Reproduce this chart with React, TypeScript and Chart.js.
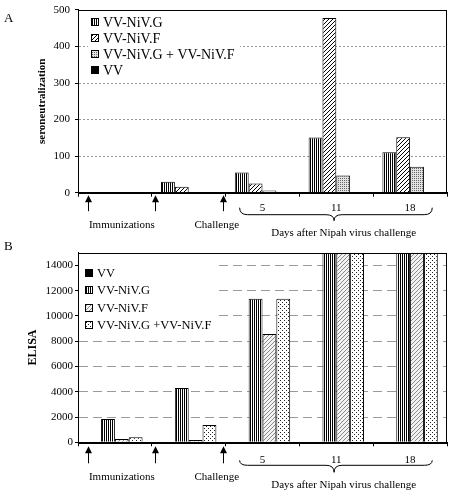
import React, { useEffect, useRef } from 'react';
import { Chart, registerables } from 'chart.js';

Chart.register(...registerables);

// ---------- data ----------
const categories = ['', '', '5', '11', '18'];

// Panel A: seroneutralization
const seroNames = ['VV-NiV.G', 'VV-NiV.F', 'VV-NiV.G + VV-NiV.F', 'VV'];
const seroG = [0, 30, 55, 151, 111];
const seroF = [0, 16, 25, 478, 152];
const seroGF = [0, 0, 6, 47, 71];
const seroVV = [0, 0, 0, 0, 0];
const seroTicks = [0, 100, 200, 300, 400, 500];
const seroMax = 500;

// Panel B: ELISA
const elisaNames = ['VV', 'VV-NiV.G', 'VV-NiV.F', 'VV-NiV.G +VV-NiV.F'];
const elisaVV = [0, 0, 0, 0, 0];
const elisaG = [1850, 4290, 11350, 15000, 15000];
const elisaF = [260, 180, 8570, 15000, 15000];
const elisaGF = [400, 1370, 11350, 15000, 15000];
const elisaTicks = [0, 2000, 4000, 6000, 8000, 10000, 12000, 14000];
const elisaMax = 15000;

const textImmunizations = 'Immunizations';
const textChallenge = 'Challenge';
const textDays = 'Days after Nipah virus challenge';

const SERIF = '"Liberation Serif", "Times New Roman", serif';

type PatternKind = 'solid' | 'vstripe' | 'hatch' | 'hatchLight' | 'grid' | 'dots';

function makePattern(ctx: CanvasRenderingContext2D, kind: PatternKind): CanvasPattern | string {
  if (kind === 'solid') return '#000';
  const c = document.createElement('canvas');
  const g = c.getContext('2d')!;
  if (kind === 'vstripe') {
    c.width = 2; c.height = 2;
    g.fillStyle = '#fff'; g.fillRect(0, 0, 2, 2);
    g.fillStyle = '#000'; g.fillRect(0, 0, 1, 2);
  } else if (kind === 'hatch' || kind === 'hatchLight') {
    const s = 4;
    c.width = s; c.height = s;
    g.fillStyle = kind === 'hatch' ? '#fff' : '#f2f2f2';
    g.fillRect(0, 0, s, s);
    g.strokeStyle = kind === 'hatch' ? '#000' : '#8a8a8a';
    g.lineWidth = 1;
    g.beginPath();
    g.moveTo(0, s); g.lineTo(s, 0);
    g.moveTo(-1, 1); g.lineTo(1, -1);
    g.moveTo(s - 1, s + 1); g.lineTo(s + 1, s - 1);
    g.stroke();
  } else if (kind === 'grid') {
    c.width = 2; c.height = 2;
    g.fillStyle = '#e2e2e2'; g.fillRect(0, 0, 2, 2);
    g.fillStyle = '#666'; g.fillRect(0, 0, 1, 1);
  } else if (kind === 'dots') {
    c.width = 4; c.height = 4;
    g.fillStyle = '#fff'; g.fillRect(0, 0, 4, 4);
    g.fillStyle = '#222'; g.fillRect(0, 0, 1, 1); g.fillRect(2, 2, 1, 1);
  }
  return ctx.createPattern(c, 'repeat')!;
}

interface PanelConfig {
  letter: string;
  letterY: number;
  names: string[];
  series: number[][];
  fills: PatternKind[];
  ticks: number[];
  max: number;
  title: string;
  titleSize: number;
  titlePad: number;
  gridDash: number[];
  tickPad: number;
  xTickPad: number;
  padTop: number;
  xHeight: number;
  legend: { boxX: number; boxY: number; boxW: number; boxH: number; markerX: number; textX: number; rowStart: number; rowGap: number; fontSize: number };
  ann: { arrowTop: number; arrowBottom: number; braceTop: number; braceMid: number; braceTip: number; labelY: number; daysY: number };
}

const panelA: PanelConfig = {
  letter: 'A', letterY: 19,
  names: seroNames,
  series: [seroG, seroF, seroGF, seroVV],
  fills: ['vstripe', 'hatch', 'grid', 'solid'],
  ticks: seroTicks, max: seroMax,
  title: 'seroneutralization', titleSize: 11, titlePad: 36,
  gridDash: [2, 2], tickPad: 5, xTickPad: 5, padTop: 5, xHeight: 47.3,
  legend: { boxX: 10, boxY: 2, boxW: 152, boxH: 65, markerX: 13, textX: 25, rowStart: 12.5, rowGap: 15.7, fontSize: 14 },
  ann: { arrowTop: 2.5, arrowBottom: 18.5, braceTop: 15, braceMid: 22, braceTip: 28, labelY: 32.5, daysY: 40 },
};

const panelB: PanelConfig = {
  letter: 'B', letterY: 7,
  names: elisaNames,
  series: [elisaVV, elisaG, elisaF, elisaGF],
  fills: ['solid', 'vstripe', 'hatchLight', 'dots'],
  ticks: elisaTicks, max: elisaMax,
  title: 'ELISA', titleSize: 12, titlePad: 26,
  gridDash: [9, 5], tickPad: 2, xTickPad: 7.5, padTop: 12.7, xHeight: 48.7,
  legend: { boxX: 1, boxY: 5, boxW: 138, boxH: 75, markerX: 7, textX: 19, rowStart: 20.3, rowGap: 17.3, fontSize: 12.5 },
  ann: { arrowTop: 4, arrowBottom: 21, braceTop: 18, braceMid: 23, braceTip: 30, labelY: 35, daysY: 43 },
};

// annotation positions in category units
const arrowAt = [-0.365, 0.54, 1.46];
const immunizationsAt = 0.095;
const challengeAt = 1.38;
const braceFrom = 1.69;
const braceTo = 4.3;
const braceTipAt = 2.97;
const daysAt = 3.1;

function makePlugin(cfg: PanelConfig) {
  return {
    id: 'panelDecor' + cfg.letter,
    afterDraw(chart: any) {
      const { ctx, chartArea: ca, scales } = chart;
      const xs = scales.x;
      ctx.save();
      // frame
      ctx.strokeStyle = '#000';
      ctx.lineWidth = 1;
      ctx.setLineDash([]);
      ctx.strokeRect(Math.round(ca.left) + 0.5, Math.round(ca.top) + 0.5, Math.round(ca.right - ca.left) - 1, Math.round(ca.bottom - ca.top));

      // legend
      const lg = cfg.legend;
      ctx.fillStyle = '#fff';
      ctx.fillRect(ca.left + lg.boxX, ca.top + lg.boxY, lg.boxW, lg.boxH);
      chart.data.datasets.forEach((ds: any, i: number) => {
        const cy = Math.round(ca.top + lg.rowStart + i * lg.rowGap);
        const mx = Math.round(ca.left + lg.markerX);
        ctx.fillStyle = ds.backgroundColor;
        ctx.fillRect(mx, cy - 4, 8, 8);
        ctx.strokeStyle = '#000';
        ctx.strokeRect(mx + 0.5, cy - 3.5, 7, 7);
        ctx.fillStyle = '#000';
        ctx.font = `${lg.fontSize}px ${SERIF}`;
        ctx.textAlign = 'left';
        ctx.textBaseline = 'middle';
        ctx.fillText(ds.label, ca.left + lg.textX, cy + 1);
      });

      // panel letter
      ctx.font = `13px ${SERIF}`;
      ctx.textAlign = 'left';
      ctx.textBaseline = 'middle';
      ctx.fillStyle = '#000';
      ctx.fillText(cfg.letter, 4, cfg.letterY);

      // arrows
      const an = cfg.ann;
      const base = ca.bottom;
      arrowAt.forEach((v) => {
        const px = Math.round(xs.getPixelForValue(v)) + 0.5;
        ctx.beginPath();
        ctx.moveTo(px, base + an.arrowTop + 5);
        ctx.lineTo(px, base + an.arrowBottom);
        ctx.stroke();
        ctx.beginPath();
        ctx.moveTo(px, base + an.arrowTop);
        ctx.lineTo(px - 3.5, base + an.arrowTop + 7);
        ctx.lineTo(px + 3.5, base + an.arrowTop + 7);
        ctx.closePath();
        ctx.fill();
      });

      // brace
      const x1 = xs.getPixelForValue(braceFrom);
      const x2 = xs.getPixelForValue(braceTo);
      const xm = xs.getPixelForValue(braceTipAt);
      const yT = base + an.braceTop, yM = base + an.braceMid, yP = base + an.braceTip;
      const r = 8;
      ctx.beginPath();
      ctx.moveTo(x1, yT);
      ctx.quadraticCurveTo(x1, yM, x1 + r, yM);
      ctx.lineTo(xm - r, yM);
      ctx.quadraticCurveTo(xm, yM, xm, yP);
      ctx.quadraticCurveTo(xm, yM, xm + r, yM);
      ctx.lineTo(x2 - r, yM);
      ctx.quadraticCurveTo(x2, yM, x2, yT);
      ctx.stroke();

      // texts
      ctx.font = `11px ${SERIF}`;
      ctx.textAlign = 'center';
      ctx.textBaseline = 'middle';
      ctx.fillText(textImmunizations, xs.getPixelForValue(immunizationsAt), base + an.labelY);
      ctx.fillText(textChallenge, xs.getPixelForValue(challengeAt), base + an.labelY);
      ctx.fillText(textDays, xs.getPixelForValue(daysAt), base + an.daysY);
      ctx.restore();
    },
  };
}

function buildChart(canvas: HTMLCanvasElement, cfg: PanelConfig) {
  const ctx = canvas.getContext('2d')!;
  const fills = cfg.fills.map((k) => makePattern(ctx, k));
  return new Chart(canvas, {
    type: 'bar',
    data: {
      labels: categories,
      datasets: cfg.series.map((d, i) => ({
        label: cfg.names[i],
        data: d,
        backgroundColor: fills[i] as any,
        borderColor: '#000',
        borderWidth: 1,
        barPercentage: 1,
        categoryPercentage: 0.75,
      })),
    },
    options: {
      responsive: false,
      animation: false,
      events: [],
      layout: { padding: { left: 0, right: 5, top: cfg.padTop, bottom: 0 } },
      plugins: { legend: { display: false }, tooltip: { enabled: false }, title: { display: false } },
      scales: {
        x: {
          grid: { display: true, drawOnChartArea: false, drawTicks: true, tickLength: 4, color: '#000', offset: true },
          border: { display: true, color: '#000' },
          ticks: { font: { family: SERIF, size: 11 }, color: '#000', padding: cfg.xTickPad, maxRotation: 0, autoSkip: false },
          afterFit: (s: any) => { s.height = cfg.xHeight; },
        },
        y: {
          min: 0,
          max: cfg.max,
          afterBuildTicks: (s: any) => { s.ticks = cfg.ticks.map((v) => ({ value: v })); },
          afterFit: (s: any) => { s.width = 78; },
          grid: {
            color: (c: any) => (c.tick && (c.tick.value === 0 || c.tick.value >= cfg.max) ? 'rgba(0,0,0,0)' : '#9a9a9a'),
            tickColor: '#000',
            tickLength: 3,
            lineWidth: 1,
          },
          border: { display: true, color: '#000', dash: cfg.gridDash },
          ticks: {
            font: { family: SERIF, size: 11, lineHeight: 0.9 },
            color: '#000',
            padding: cfg.tickPad,
            callback: (v: any) => String(v),
          },
          title: {
            display: true,
            text: cfg.title,
            font: { family: SERIF, size: cfg.titleSize, weight: 'bold' },
            color: '#000',
            padding: { top: cfg.titlePad, bottom: 0 },
          },
        },
      },
    } as any,
    plugins: [makePlugin(cfg)],
  });
}

export default function App() {
  const refA = useRef<HTMLCanvasElement>(null);
  const refB = useRef<HTMLCanvasElement>(null);
  useEffect(() => {
    const a = buildChart(refA.current!, panelA);
    const b = buildChart(refB.current!, panelB);
    return () => {
      a.destroy();
      b.destroy();
    };
  }, []);
  return (
    <div style={{ position: 'absolute', left: 0, top: 0, width: 452, height: 491, background: '#fff' }}>
      <canvas ref={refA} width={452} height={240} style={{ position: 'absolute', left: 0, top: 0, width: 452, height: 240 }} />
      <canvas ref={refB} width={452} height={251} style={{ position: 'absolute', left: 0, top: 240, width: 452, height: 251 }} />
    </div>
  );
}
